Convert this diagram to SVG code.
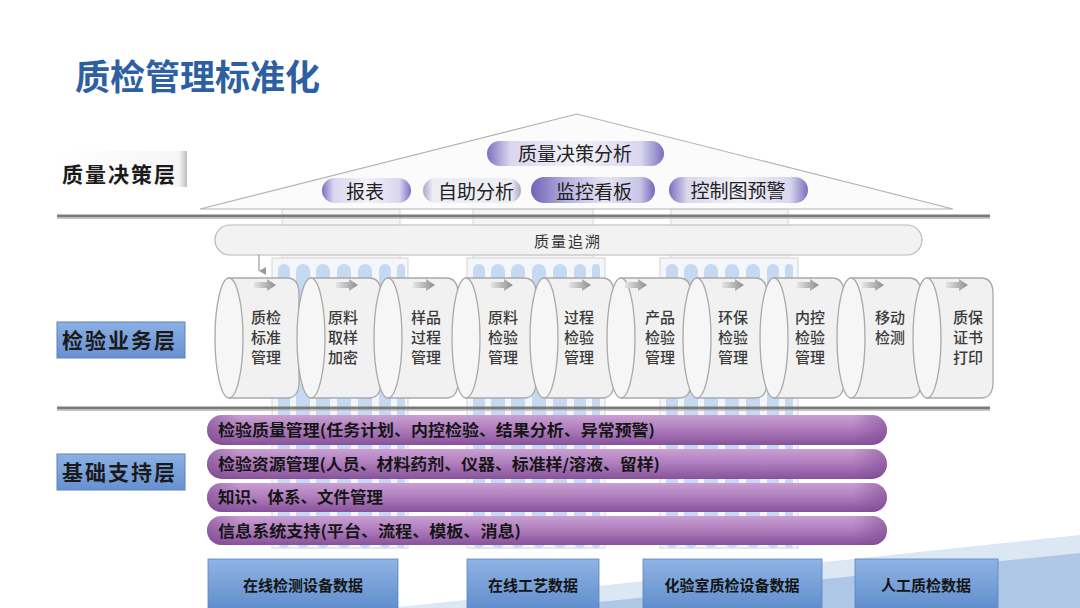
<svg xmlns="http://www.w3.org/2000/svg" width="1080" height="608" viewBox="0 0 1080 608">
<defs>
<style>
.t{font-family:"Noto Sans CJK SC","Noto Sans",sans-serif;}
.title{font-size:35px;font-weight:bold;fill:#2D5FA2;}
.lbl{font-size:21px;font-weight:bold;fill:#1a1a1a;letter-spacing:2px;}
.roof{font-size:19px;fill:#222;text-anchor:middle;}
.cyl{font-size:15px;font-weight:500;fill:#3a3a3a;text-anchor:middle;}
.bar{font-size:15.5px;font-weight:bold;fill:#151515;}
.src{font-size:15px;font-weight:bold;fill:#151515;text-anchor:middle;}
.cylbody{fill:#F1F1F1;stroke:#A9A9A9;stroke-width:1.3;}
.cylend{fill:#F6F6F6;stroke:#A9A9A9;stroke-width:1.3;}
.col{fill:#F5F5F5;stroke:#D6D6D6;stroke-width:1;}
.stripe{fill:#C5DAF2;}
.pbar{fill:url(#purp);}
.srcbox{fill:url(#blueBox);stroke:#5A84BE;stroke-width:0.8;}
.lblbox{fill:url(#blueLbl);stroke:#5C82BC;stroke-width:1;}
</style>
<linearGradient id="purp" x1="0" y1="0" x2="0" y2="1">
<stop offset="0" stop-color="#C9A0D2"/>
<stop offset="0.45" stop-color="#B17FBF"/>
<stop offset="1" stop-color="#87529A"/>
</linearGradient>
<linearGradient id="purpEdge" x1="0" y1="0" x2="1" y2="0">
<stop offset="0" stop-color="#7B4690" stop-opacity="0.55"/>
<stop offset="0.05" stop-color="#7B4690" stop-opacity="0"/>
<stop offset="0.95" stop-color="#7B4690" stop-opacity="0"/>
<stop offset="1" stop-color="#7B4690" stop-opacity="0.55"/>
</linearGradient>
<linearGradient id="blueBox" x1="0" y1="0" x2="0" y2="1">
<stop offset="0" stop-color="#8FB4E4"/>
<stop offset="1" stop-color="#5E8CCB"/>
</linearGradient>
<linearGradient id="blueLbl" x1="0" y1="0" x2="0" y2="1">
<stop offset="0" stop-color="#8CB0E3"/>
<stop offset="1" stop-color="#6690D0"/>
</linearGradient>
<linearGradient id="pill" x1="0" y1="0" x2="1" y2="0">
<stop offset="0" stop-color="#7A70C0"/>
<stop offset="0.13" stop-color="#D9D6EE"/>
<stop offset="0.5" stop-color="#F3F2F9"/>
<stop offset="0.87" stop-color="#D9D6EE"/>
<stop offset="1" stop-color="#7A70C0"/>
</linearGradient>
<linearGradient id="pillDark" x1="0" y1="0" x2="1" y2="0">
<stop offset="0" stop-color="#6F64B8"/>
<stop offset="0.3" stop-color="#B9B3E0"/>
<stop offset="0.6" stop-color="#E6E4F4"/>
<stop offset="0.88" stop-color="#C9C4E8"/>
<stop offset="1" stop-color="#6F64B8"/>
</linearGradient>
<linearGradient id="pillLight" x1="0" y1="0" x2="1" y2="0">
<stop offset="0" stop-color="#ABA8C8"/>
<stop offset="0.1" stop-color="#EDEDF4"/>
<stop offset="0.9" stop-color="#EDEDF4"/>
<stop offset="1" stop-color="#ABA8C8"/>
</linearGradient>
<linearGradient id="arr" x1="0" y1="0" x2="1" y2="0">
<stop offset="0" stop-color="#E4E4E4"/>
<stop offset="1" stop-color="#8E8E8E"/>
</linearGradient>
<linearGradient id="lightLbl" x1="0" y1="0" x2="1" y2="0">
<stop offset="0" stop-color="#FFFFFF"/>
<stop offset="0.94" stop-color="#F6F6F6"/>
<stop offset="1" stop-color="#BDBDBD"/>
</linearGradient>
<marker id="ah" markerWidth="8" markerHeight="8" refX="4" refY="7" orient="auto" markerUnits="userSpaceOnUse">
<path d="M0,0 L8,0 L4,7 z" fill="#9A9A9A"/>
</marker>
<g id="arrowShape"><path d="M0,-3 H13 V-6 L22,0 L13,6 V3 H0 Z" fill="url(#arr)"/></g>
</defs>

<rect width="1080" height="608" fill="#FFFFFF"/>

<!-- background swoosh -->
<polygon points="390,608 1080,535 1080,608" fill="#DCE7F4"/>
<polygon points="540,608 1080,553 1080,608" fill="#AFC7E6"/>

<!-- title -->
<text class="t title" x="75" y="90">质检管理标准化</text>

<!-- striped panels & columns -->
<g id="panels">
<rect class="col" x="282" y="209" width="118" height="52"/>
<rect class="col" x="473" y="209" width="120" height="52"/>
<rect class="col" x="671" y="209" width="117" height="52"/>
<rect x="272" y="258" width="136" height="290" fill="#F4F6F9" stroke="#D4D4D4" stroke-width="1"/>
<rect x="467" y="258" width="138" height="290" fill="#F4F6F9" stroke="#D4D4D4" stroke-width="1"/>
<rect x="660" y="258" width="138" height="290" fill="#F4F6F9" stroke="#D4D4D4" stroke-width="1"/>
<g class="stripe">
<rect x="278" y="264" width="12" height="284" rx="6"/><rect x="296" y="264" width="14" height="284" rx="7"/><rect x="316" y="264" width="14" height="284" rx="7"/><rect x="337" y="264" width="14" height="284" rx="7"/><rect x="358" y="264" width="14" height="284" rx="7"/><rect x="379" y="264" width="12" height="284" rx="6"/><rect x="397" y="264" width="8" height="284" rx="4"/>
<rect x="473" y="264" width="12" height="284" rx="6"/><rect x="491" y="264" width="14" height="284" rx="7"/><rect x="511" y="264" width="14" height="284" rx="7"/><rect x="532" y="264" width="14" height="284" rx="7"/><rect x="553" y="264" width="14" height="284" rx="7"/><rect x="574" y="264" width="12" height="284" rx="6"/><rect x="592" y="264" width="8" height="284" rx="4"/>
<rect x="666" y="264" width="12" height="284" rx="6"/><rect x="684" y="264" width="14" height="284" rx="7"/><rect x="704" y="264" width="14" height="284" rx="7"/><rect x="725" y="264" width="14" height="284" rx="7"/><rect x="746" y="264" width="14" height="284" rx="7"/><rect x="767" y="264" width="12" height="284" rx="6"/><rect x="785" y="264" width="8" height="284" rx="4"/>
</g>
</g>

<!-- roof -->
<g id="roof">
<polygon points="200,209 577,114 953,209" fill="#FBFBFB" stroke="#B3B3B3" stroke-width="1.2"/>
</g>

<!-- layer lines -->
<line x1="57" y1="216" x2="990" y2="216" stroke="#7A7A7A" stroke-width="3"/>
<line x1="57" y1="218.5" x2="990" y2="218.5" stroke="#C8C8C8" stroke-width="1"/>
<line x1="57" y1="408" x2="990" y2="408" stroke="#7A7A7A" stroke-width="3"/>
<line x1="57" y1="410.5" x2="990" y2="410.5" stroke="#C8C8C8" stroke-width="1"/>

<!-- left layer labels -->
<g id="lbl-decision">
<rect x="55" y="151" width="132" height="36" fill="url(#lightLbl)"/>
<text class="t lbl" x="62" y="182">质量决策层</text>
</g>
<g id="lbl-business">
<rect class="lblbox" x="57" y="322" width="128" height="36"/>
<text class="t lbl" x="62" y="348">检验业务层</text>
</g>
<g id="lbl-support">
<rect class="lblbox" x="57" y="454" width="128" height="36"/>
<text class="t lbl" x="62" y="480">基础支持层</text>
</g>

<!-- roof pills -->
<g id="n-decision">
<rect x="487" y="141" width="177" height="25" rx="12.5" fill="url(#pill)"/>
<text class="t roof" x="575" y="161">质量决策分析</text>
</g>
<g id="n-report">
<rect x="322" y="178" width="89" height="25" rx="12.5" fill="url(#pill)"/>
<text class="t roof" x="365" y="199">报表</text>
</g>
<g id="n-self">
<rect x="423" y="178" width="98" height="25" rx="12.5" fill="url(#pillLight)"/>
<text class="t roof" x="476" y="199">自助分析</text>
</g>
<g id="n-monitor">
<rect x="531" y="177" width="124" height="26" rx="13" fill="url(#pillDark)"/>
<text class="t roof" x="594" y="199">监控看板</text>
</g>
<g id="n-control">
<rect x="669" y="177" width="139" height="26" rx="13" fill="url(#pill)"/>
<text class="t roof" x="738" y="198">控制图预警</text>
</g>

<!-- quality trace bar -->
<g id="n-trace">
<rect x="215" y="225" width="707" height="30" rx="15" fill="#F2F2F2" stroke="#B8B8B8" stroke-width="1.2"/>
<text class="t" x="568" y="247" font-size="15" fill="#333" text-anchor="middle" letter-spacing="2">质量追溯</text>
</g>

<g id="connectors">
<line x1="259" y1="255" x2="259" y2="271" stroke="#9A9A9A" stroke-width="1.2" marker-end="url(#ah)"/>
</g>

<!-- cylinders -->
<g id="c1"><path class="cylbody" d="M229,278 H287 Q299,278 299,294 V382 Q299,398 287,398 H229 Z"/><ellipse class="cylend" cx="229" cy="338" rx="14" ry="60"/><use href="#arrowShape" x="254" y="285"/>
<text class="t cyl" x="266" y="323">质检</text><text class="t cyl" x="266" y="343">标准</text><text class="t cyl" x="266" y="363">管理</text></g>
<g id="c2"><path class="cylbody" d="M311,278 H369 Q381,278 381,294 V382 Q381,398 369,398 H311 Z"/><ellipse class="cylend" cx="311" cy="338" rx="14" ry="60"/><use href="#arrowShape" x="336" y="285"/>
<text class="t cyl" x="343" y="323">原料</text><text class="t cyl" x="343" y="343">取样</text><text class="t cyl" x="343" y="363">加密</text></g>
<g id="c3"><path class="cylbody" d="M388,278 H446 Q458,278 458,294 V382 Q458,398 446,398 H388 Z"/><ellipse class="cylend" cx="388" cy="338" rx="14" ry="60"/><use href="#arrowShape" x="413" y="285"/>
<text class="t cyl" x="426" y="323">样品</text><text class="t cyl" x="426" y="343">过程</text><text class="t cyl" x="426" y="363">管理</text></g>
<g id="c4"><path class="cylbody" d="M466,278 H524 Q536,278 536,294 V382 Q536,398 524,398 H466 Z"/><ellipse class="cylend" cx="466" cy="338" rx="14" ry="60"/><use href="#arrowShape" x="491" y="285"/>
<text class="t cyl" x="503" y="323">原料</text><text class="t cyl" x="503" y="343">检验</text><text class="t cyl" x="503" y="363">管理</text></g>
<g id="c5"><path class="cylbody" d="M544,278 H602 Q614,278 614,294 V382 Q614,398 602,398 H544 Z"/><ellipse class="cylend" cx="544" cy="338" rx="14" ry="60"/><use href="#arrowShape" x="569" y="285"/>
<text class="t cyl" x="579" y="323">过程</text><text class="t cyl" x="579" y="343">检验</text><text class="t cyl" x="579" y="363">管理</text></g>
<g id="c6"><path class="cylbody" d="M621,278 H679 Q691,278 691,294 V382 Q691,398 679,398 H621 Z"/><ellipse class="cylend" cx="621" cy="338" rx="14" ry="60"/><use href="#arrowShape" x="625" y="285"/>
<text class="t cyl" x="660" y="323">产品</text><text class="t cyl" x="660" y="343">检验</text><text class="t cyl" x="660" y="363">管理</text></g>
<g id="c7"><path class="cylbody" d="M697,278 H755 Q767,278 767,294 V382 Q767,398 755,398 H697 Z"/><ellipse class="cylend" cx="697" cy="338" rx="14" ry="60"/><use href="#arrowShape" x="722" y="285"/>
<text class="t cyl" x="733" y="323">环保</text><text class="t cyl" x="733" y="343">检验</text><text class="t cyl" x="733" y="363">管理</text></g>
<g id="c8"><path class="cylbody" d="M774,278 H832 Q844,278 844,294 V382 Q844,398 832,398 H774 Z"/><ellipse class="cylend" cx="774" cy="338" rx="14" ry="60"/><use href="#arrowShape" x="797" y="285"/>
<text class="t cyl" x="810" y="323">内控</text><text class="t cyl" x="810" y="343">检验</text><text class="t cyl" x="810" y="363">管理</text></g>
<g id="c9"><path class="cylbody" d="M851,278 H909 Q921,278 921,294 V382 Q921,398 909,398 H851 Z"/><ellipse class="cylend" cx="851" cy="338" rx="14" ry="60"/><use href="#arrowShape" x="862" y="285"/>
<text class="t cyl" x="890" y="323">移动</text><text class="t cyl" x="890" y="343">检测</text></g>
<g id="c10"><path class="cylbody" d="M927,278 H981 Q993,278 993,294 V382 Q993,398 981,398 H927 Z"/><ellipse class="cylend" cx="927" cy="338" rx="14" ry="60"/><use href="#arrowShape" x="946" y="285"/>
<text class="t cyl" x="968" y="323">质保</text><text class="t cyl" x="968" y="343">证书</text><text class="t cyl" x="968" y="363">打印</text></g>

<!-- support bars -->
<g id="b1"><rect class="pbar" x="207" y="415" width="680" height="30" rx="15"/><rect x="207" y="415" width="680" height="30" rx="15" fill="url(#purpEdge)"/>
<text class="t bar" x="218" y="436" textLength="437" lengthAdjust="spacingAndGlyphs">检验质量管理(任务计划、内控检验、结果分析、异常预警)</text></g>
<g id="b2"><rect class="pbar" x="207" y="449" width="680" height="30" rx="15"/><rect x="207" y="449" width="680" height="30" rx="15" fill="url(#purpEdge)"/>
<text class="t bar" x="218" y="470" textLength="442" lengthAdjust="spacingAndGlyphs">检验资源管理(人员、材料药剂、仪器、标准样/溶液、留样)</text></g>
<g id="b3"><rect class="pbar" x="207" y="483" width="680" height="29" rx="14.5"/><rect x="207" y="483" width="680" height="29" rx="14.5" fill="url(#purpEdge)"/>
<text class="t bar" x="218" y="503" textLength="165" lengthAdjust="spacingAndGlyphs">知识、体系、文件管理</text></g>
<g id="b4"><rect class="pbar" x="207" y="516" width="680" height="29" rx="14.5"/><rect x="207" y="516" width="680" height="29" rx="14.5" fill="url(#purpEdge)"/>
<text class="t bar" x="218" y="537" textLength="303" lengthAdjust="spacingAndGlyphs">信息系统支持(平台、流程、模板、消息)</text></g>

<!-- data sources -->
<g id="s1"><rect class="srcbox" x="208" y="559" width="190" height="52"/><text class="t src" x="303" y="591">在线检测设备数据</text></g>
<g id="s2"><rect class="srcbox" x="467" y="559" width="132" height="52"/><text class="t src" x="533" y="591">在线工艺数据</text></g>
<g id="s3"><rect class="srcbox" x="643" y="559" width="179" height="52"/><text class="t src" x="732" y="591">化验室质检设备数据</text></g>
<g id="s4"><rect class="srcbox" x="855" y="559" width="143" height="52"/><text class="t src" x="926" y="591">人工质检数据</text></g>
</svg>
